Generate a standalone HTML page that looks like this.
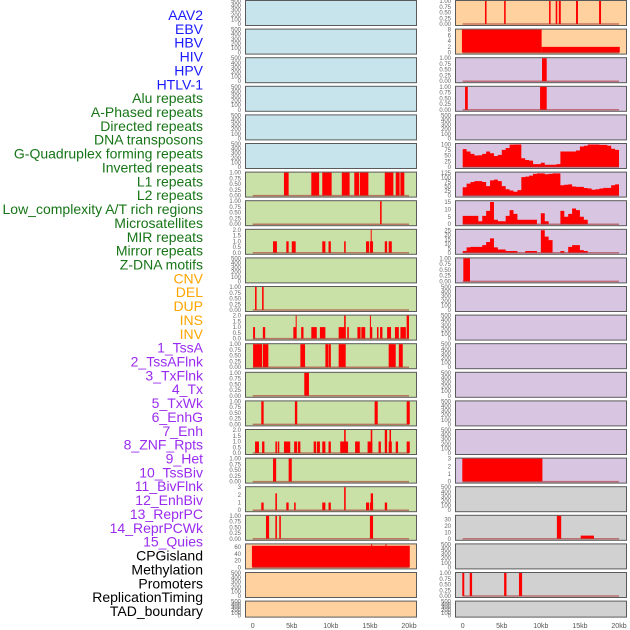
<!DOCTYPE html>
<html><head><meta charset="utf-8"><style>
html,body{margin:0;padding:0;background:#fff;}
svg{display:block;font-family:"Liberation Sans",sans-serif;}
</style></head><body>
<svg id="chart" width="630" height="630" viewBox="0 0 630 630"></svg>
<script>
const trackLabels = ["AAV2","EBV","HBV","HIV","HPV","HTLV-1","Alu repeats","A-Phased repeats","Directed repeats","DNA transposons","G-Quadruplex forming repeats","Inverted repeats","L1 repeats","L2 repeats","Low_complexity A/T rich regions","Microsatellites","MIR repeats","Mirror repeats","Z-DNA motifs","CNV","DEL","DUP","INS","INV","1_TssA","2_TssAFlnk","3_TxFlnk","4_Tx","5_TxWk","6_EnhG","7_Enh","8_ZNF_Rpts","9_Het","10_TssBiv","11_BivFlnk","12_EnhBiv","13_ReprPC","14_ReprPCWk","15_Quies","CPGisland","Methylation","Promoters","ReplicationTiming","TAD_boundary"];
const labelGroups = [6,13,5,15,5];
const xTickValues = [0,5,10,15,20];
const xTickLabels = ["0","5kb","10kb","15kb","20kb"];
const emptyTicks = [0,100,200,300,400,500];
const unitTicks = [0,0.25,0.5,0.75,1];
const twoTicks = [0,0.5,1,1.5,2];
// left column segments [startKb, endKb, value]
const l6Segs = [[4.0,4.6,1],[7.5,8.5,1],[8.9,10.1,1],[11.4,12.4,1],[13.0,13.6,1],[13.7,14.8,1],[16.9,18.0,1],[18.3,18.8,1],[18.9,19.4,1]];
const l7Segs = [[16.3,16.5,1]];
const l8Segs = [[2.6,3.1,1],[4.3,4.6,1],[5.0,5.5,1],[8.9,9.3,1],[9.7,10.0,1],[11.7,11.9,1],[14.5,14.9,1],[15.0,15.4,1],[15.1,15.2,2],[16.9,17.2,1],[17.4,17.8,1]];
const l10Segs = [[0.3,0.5,1],[1.2,1.4,1]];
const l11Segs = [[0.05,0.3,1],[1.3,1.6,1],[5.2,5.6,1],[5.5,5.6,2],[6.2,6.5,1],[7.5,8.2,1],[8.6,9.3,1],[11.0,11.9,1],[11.7,11.9,2],[12.1,12.3,1],[13.4,13.8,1],[13.9,14.4,1],[15.0,15.3,1],[15.0,15.1,2],[15.9,16.1,1],[16.3,16.6,1],[17.2,17.7,1],[18.2,18.7,1],[18.9,19.6,1],[19.7,20.0,2]];
const l12Segs = [[0.05,1.2,1],[1.3,2.0,1],[6.1,6.7,1],[9.3,9.7,1],[9.75,10.0,1],[11.0,11.9,1],[17.4,18.3,1],[18.7,19.2,1]];
const l13Segs = [[6.6,7.2,1]];
const l14Segs = [[1.1,1.4,1],[5.4,5.7,1],[15.6,16.0,1],[19.7,20.1,1]];
const l15Segs = [[0.3,0.8,1],[1.2,1.5,1],[2.9,3.1,1],[3.2,3.4,1],[4.0,4.8,1],[5.3,5.7,1],[5.8,6.1,1],[7.8,8.1,1],[8.2,8.6,1],[8.9,9.3,1],[9.7,10.0,1],[11.2,12.2,1],[11.7,11.9,2],[13.1,13.7,1],[14.7,15.3,1],[15.1,15.3,2],[16.1,16.4,1],[16.9,17.2,2],[17.4,17.8,1],[17.5,17.7,2],[18.3,18.6,1],[19.7,20.1,1]];
const l16Segs = [[2.6,3.0,1],[4.6,5.0,1]];
const l17Segs = [[1.1,1.4,1],[2.9,3.1,2.2],[4.3,4.6,1],[5.3,5.5,1],[8.9,9.3,1],[9.7,10.0,1],[11.7,11.9,3],[14.5,14.9,1],[15.0,15.4,1],[15.1,15.4,2.2],[16.9,17.2,1]];
const l18Segs = [[1.7,2.1,1],[2.9,3.1,1],[3.4,3.6,1],[15.0,15.4,1]];
const l19Segs = [[-0.1,20.1,64],[15.15,15.25,68],[17.0,17.1,68]];
// right column segments
const r0Segs = [[2.85,3.05,1],[5.3,5.5,1],[11.05,11.25,1],[11.9,12.1,1],[12.3,12.55,1],[14.5,14.75,1],[17.45,17.7,1]];
const r1Segs = [[-0.1,10.1,8],[10.1,20.1,2]];
const r2Segs = [[10.15,10.75,1]];
const r3Segs = [[0.3,0.65,1],[9.9,10.75,1]];
const r9Segs = [[0.08,0.93,1]];
const r16Segs = [[-0.05,10.2,3]];
const r18Segs = [[12.05,12.6,36],[15.1,16.8,5]];
const r20Segs = [[-0.05,0.2,1],[0.9,1.2,1],[5.3,5.6,1],[7.2,7.6,1]];
// right column profiles, 0.5kb bins starting at 0kb
const r5Profile = [79,69,58,51,52,58,69,61,49,54,76,84,99,100,100,39,31,28,13,13,19,10,10,10,13,69,69,69,69,73,91,94,100,100,100,98,98,94,81,76];
const r6Profile = [46,66,75,80,80,75,52,84,88,80,52,35,28,21,30,102,105,110,120,123,123,118,120,123,123,57,60,62,50,48,48,42,39,32,35,39,43,43,57,62];
const r7Profile = [5.6,5.6,5.6,5.6,2,5.6,9,15,3,2,2,5.6,9.5,7,3,3,3,3,3,0,7.4,2,0,0,0,9,5,7,10.6,9.5,5,3,0,0,0,0,0,0,0,0];
const r8Profile = [2,6,6.6,6.6,6.6,8.5,12,16,6,3.7,3.7,2,2,2,0,0,2,2,2,0,25,18,14,0,0,2,0,6.6,8.5,8.5,3,2,0,0,0,0,0,0,0,0];

const C = {blue:"#c7e4ec",green:"#c9e1a6",orange:"#ffd19e",purple:"#d7c5e1",gray:"#d1d1d1"};
const leftPanels = [
 {c:"blue"},{c:"blue"},{c:"blue"},{c:"blue"},{c:"blue"},{c:"blue"},
 {c:"green",t:unitTicks,max:1,s:l6Segs},{c:"green",t:unitTicks,max:1,s:l7Segs},{c:"green",t:twoTicks,max:2,s:l8Segs},
 {c:"green"},{c:"green",t:unitTicks,max:1,s:l10Segs},{c:"green",t:twoTicks,max:2,s:l11Segs},
 {c:"green",t:unitTicks,max:1,s:l12Segs},{c:"green",t:unitTicks,max:1,s:l13Segs},{c:"green",t:unitTicks,max:1,s:l14Segs},
 {c:"green",t:twoTicks,max:2,s:l15Segs},{c:"green",t:unitTicks,max:1,s:l16Segs},{c:"green",t:[0,1,2,3],max:3,s:l17Segs},
 {c:"green",t:unitTicks,max:1,s:l18Segs},{c:"orange",t:[0,20,40,60],max:68,s:l19Segs},{c:"orange"},{c:"orange",short:true}
];
const rightPanels = [
 {c:"orange",t:unitTicks,max:1,s:r0Segs},{c:"orange",t:[0,2,4,6,8],max:8,s:r1Segs},
 {c:"purple",t:unitTicks,max:1,s:r2Segs},{c:"purple",t:unitTicks,max:1,s:r3Segs},{c:"purple"},
 {c:"purple",t:[0,25,50,75,100],max:102,p:r5Profile},{c:"purple",t:[0,25,50,75,100,125],max:127,p:r6Profile},
 {c:"purple",t:[0,5,10,15],max:15.5,p:r7Profile},{c:"purple",t:[0,5,10,15,20,25],max:25.5,p:r8Profile},
 {c:"purple",t:unitTicks,max:1,s:r9Segs},{c:"purple"},{c:"purple"},{c:"purple"},{c:"purple"},{c:"purple"},{c:"purple"},
 {c:"purple",t:[0,1,2,3],max:3,s:r16Segs},{c:"gray"},{c:"gray",t:[0,10,20,30],max:36,s:r18Segs},
 {c:"gray"},{c:"gray",t:unitTicks,max:1,s:r20Segs},{c:"gray",short:true}
];
const svg = document.getElementById('chart');
const NS = "http://www.w3.org/2000/svg";
function mk(tag, attrs, parent){const e=document.createElementNS(NS,tag);for(const k in attrs)e.setAttribute(k,attrs[k]);(parent||svg).appendChild(e);return e;}
const groupColors = ["#1a1aff","#177517","#ffa500","#9a2cf0","#000"];
let li=0;
labelGroups.forEach((n,g)=>{for(let j=0;j<n;j++){const y=15+li*13.86;
 const t=mk('text',{x:203,y:y+5,'text-anchor':'end','font-size':'14',fill:groupColors[g]});
 t.textContent=trackLabels[li];
 
 
 li++;}});
function fmt(v,ticks){const dec=ticks.some(x=>x%1!==0);return dec?(ticks.includes(0.25)?v.toFixed(2):v.toFixed(1)):String(v);}
function drawPanel(p,i,x0){
 const top=i*28.6, h=p.short?16:25;
 const xs=kb=>x0+7.7+kb*7.815;
 const g=mk('g',{});
 
 
 const r=mk('rect',{x:x0+0.5,y:top+0.5,width:171,height:h,fill:C[p.c],stroke:'#5a5a5a','stroke-width':1},g);
 
 
 const ticks=p.t||emptyTicks, max=p.max||500;
 const ys=v=>top+h-1-(v/max)*(h-2);
 ticks.forEach(v=>{const t=mk('text',{x:x0-4,y:ys(v)+2,'text-anchor':'end','font-size':'6',fill:'#666'},g);
  t.textContent=fmt(v,ticks);
  
  });
 if(!p.t) return;
 if(p.s) p.s.forEach(s=>{const b=mk('rect',{x:xs(s[0]),y:ys(s[2]),width:Math.max(1,xs(s[1])-xs(s[0])),height:ys(0)-ys(s[2]),fill:'#ff0000'},g);
  
  });
 if(p.p){let d='M'+xs(0)+','+ys(0);p.p.forEach((v,k)=>{d+=' L'+xs(k*0.5)+','+ys(v)+' L'+xs(k*0.5+0.5)+','+ys(v);});d+=' L'+xs(20)+','+ys(0)+'Z';
  const a=mk('path',{d:d,fill:'#ff0000'},g);
  
  }
 const bl=mk('line',{x1:xs(0),x2:xs(20),y1:ys(0),y2:ys(0),stroke:'rgba(170,50,50,0.6)','stroke-width':1.5},g);
 
 
}
leftPanels.forEach((p,i)=>drawPanel(p,i,245));
rightPanels.forEach((p,i)=>drawPanel(p,i,455));
[245,455].forEach(x0=>{xTickValues.forEach((v,k)=>{const t=mk('text',{x:x0+7.7+v*7.815,y:628,'text-anchor':'middle','font-size':'7',fill:'#555'});
 t.textContent=xTickLabels[k];
 
 });});
</script>
</body></html>
